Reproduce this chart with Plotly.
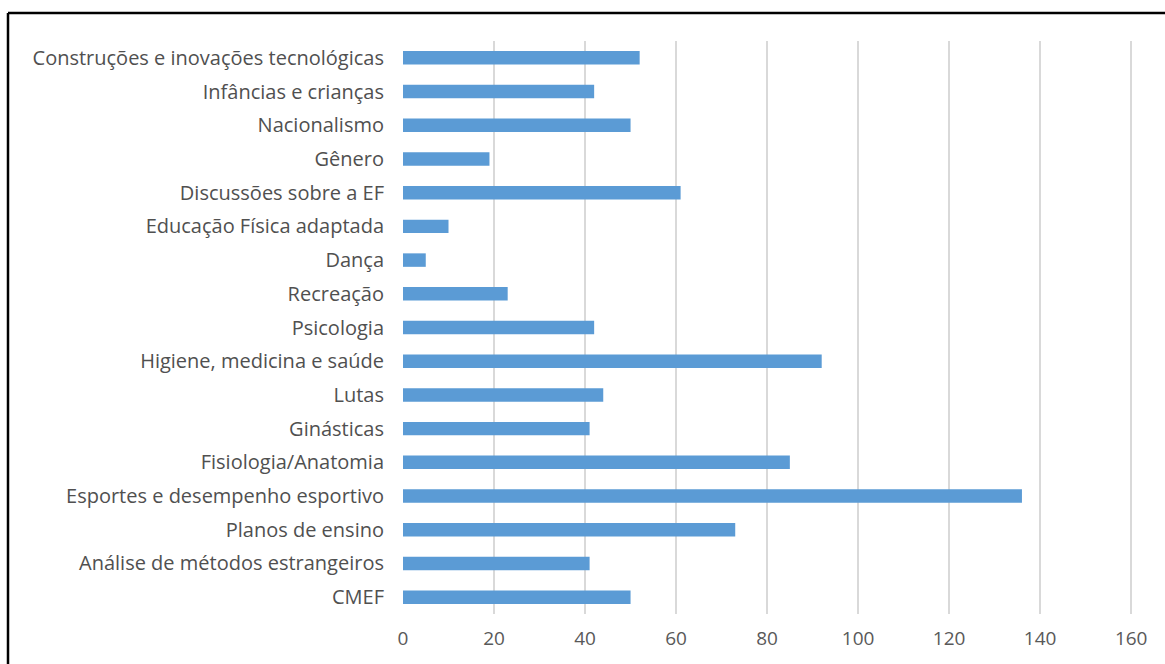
import plotly.graph_objects as go

categories = [
    "Construções e inovações tecnológicas",
    "Infâncias e crianças",
    "Nacionalismo",
    "Gênero",
    "Discussões sobre a EF",
    "Educação Física adaptada",
    "Dança",
    "Recreação",
    "Psicologia",
    "Higiene, medicina e saúde",
    "Lutas",
    "Ginásticas",
    "Fisiologia/Anatomia",
    "Esportes e desempenho esportivo",
    "Planos de ensino",
    "Análise de métodos estrangeiros",
    "CMEF",
]
values = [52, 42, 50, 19, 61, 10, 5, 23, 42, 92, 44, 41, 85, 136, 73, 41, 50]
x_ticks = [0, 20, 40, 60, 80, 100, 120, 140, 160]

W, H = 1165, 664
L, R, T, B = 403, 32, 41, 50
pw, ph = W - L - R, H - T - B

fig = go.Figure(go.Bar(
    y=categories, x=values, orientation="h",
    marker=dict(color="#5B9BD5", line=dict(width=0)),
))

fig.update_layout(
    width=W, height=H,
    margin=dict(l=L, r=R, t=T, b=B),
    paper_bgcolor="white", plot_bgcolor="white",
    bargap=0.6,
    showlegend=False,
    font=dict(family="'Open Sans', sans-serif", size=19, color="#595959"),
    xaxis=dict(
        range=[0, 160.4], tickvals=x_ticks, showgrid=True,
        gridcolor="#D9D9D9", gridwidth=2, zeroline=False,
        showline=False, ticks="", ticklabelstandoff=11,
        tickfont=dict(size=19, color="#595959"), fixedrange=True,
    ),
    yaxis=dict(
        autorange="reversed", showgrid=False, zeroline=False,
        showline=False, ticks="", ticklabelstandoff=18,
        tickfont=dict(size=20, color="#505050"),
    ),
    shapes=[
        dict(type="line", xref="paper", yref="paper",
             x0=(8 - L) / pw, x1=(W + 20 - L) / pw,
             y0=(H - B - 13) / ph, y1=(H - B - 13) / ph,
             line=dict(color="black", width=2.5)),
        dict(type="line", xref="paper", yref="paper",
             x0=(8 - L) / pw, x1=(8 - L) / pw,
             y0=(H - B - 13) / ph, y1=-0.2,
             line=dict(color="black", width=2.5)),
    ],
)

fig.write_html("out.html")
